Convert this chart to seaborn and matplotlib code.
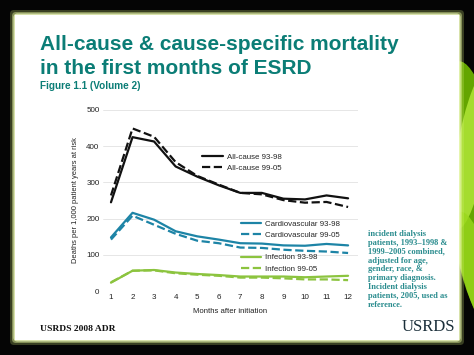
import numpy as np
import pandas as pd
import matplotlib
matplotlib.use("Agg")
import matplotlib.pyplot as plt
from matplotlib.patches import FancyBboxPatch, Ellipse
import seaborn as sns

# data
months = [1, 2, 3, 4, 5, 6, 7, 8, 9, 10, 11, 12]
allcause_9398 = [245, 425, 413, 344, 316, 292, 271, 271, 255, 253, 264, 256]
allcause_9905 = [264, 449, 426, 356, 318, 294, 271, 267, 251, 244, 246, 232]
cardio_9398 = [148, 216, 197, 165, 151, 142, 132, 131, 126, 125, 130, 126]
cardio_9905 = [142, 208, 183, 158, 139, 132, 120, 119, 114, 111, 109, 105]
infect_9398 = [23, 56, 58, 51, 47, 44, 40, 40, 40, 38, 40, 42]
infect_9905 = [24, 56, 57, 49, 45, 42, 37, 37, 35, 32, 32, 30]

teal = "#0b7d76"
black = "#111111"
blue = "#1d84a6"
green = "#8cc43f"

sns.set_theme(style="white")
plt.rcParams['font.family'] = ['Liberation Sans', 'DejaVu Sans']

fig = plt.figure(figsize=(4.74, 3.55), dpi=100)
fig.patch.set_facecolor("#050505")

# background leaf on the right
bg = fig.add_axes([0, 0, 1, 1])
bg.set_xlim(0, 474)
bg.set_ylim(355, 0)
bg.axis("off")
for cx, cy, w, h, ang, c, a in [(478, 200, 60, 280, -8, "#6fb800", 0.9),
                                (472, 150, 30, 160, 10, "#b6ea3a", 0.8),
                                (476, 270, 30, 120, -15, "#9ad81c", 0.8)]:
    bg.add_patch(Ellipse((cx, cy), w, h, angle=ang, color=c, alpha=a, lw=0))
# glow border + white slide panel
for pad, c, a in [(5, "#d8f07a", 0.25), (3, "#e4f59a", 0.45), (1.5, "#eef8c0", 0.8)]:
    bg.add_patch(FancyBboxPatch((15 - pad, 15 - pad), 444 + 2 * pad, 325 + 2 * pad,
                                boxstyle="round,pad=0,rounding_size=4",
                                fc=c, ec="none", alpha=a))
bg.add_patch(FancyBboxPatch((15, 15), 444, 325, boxstyle="square,pad=0",
                            fc="white", ec="none"))

fig.text(40 / 474, 1 - 35 / 355,
         "All-cause & cause-specific mortality\nin the first months of ESRD",
         color=teal, fontsize=15, fontweight="bold", va="top", ha="left",
         linespacing=1.3)
fig.text(40 / 474, 1 - 86 / 355, "Figure 1.1 (Volume 2)", color=teal,
         fontsize=7.2, fontweight="bold", va="center", ha="left")

ax = fig.add_axes([103 / 474, 1 - 291 / 355, 255 / 474, 181 / 355])
ax.set_facecolor("none")

series = [
    ("All-cause 93-98", allcause_9398, black, "-"),
    ("All-cause 99-05", allcause_9905, black, "--"),
    ("Cardiovascular 93-98", cardio_9398, blue, "-"),
    ("Cardiovascular 99-05", cardio_9905, blue, "--"),
    ("Infection 93-98", infect_9398, green, "-"),
    ("Infection 99-05", infect_9905, green, "--"),
]
handles = []
for name, vals, col, ls in series:
    df = pd.DataFrame({"month": months, "rate": vals})
    sns.lineplot(data=df, x="month", y="rate", ax=ax, color=col, lw=1.6,
                 linestyle=ls, label=name, legend=False)
    handles.append(ax.lines[-1])

ax.set_xlim(0.63, 12.46)
ax.set_ylim(0, 500)
ax.set_xticks(months)
ax.set_yticks([0, 100, 200, 300, 400, 500])
ax.yaxis.grid(True, color="#e2e2e2", lw=0.6)
ax.set_axisbelow(True)
for s in ax.spines.values():
    s.set_visible(False)
ax.tick_params(axis="both", labelsize=5.8, length=0, pad=2.5, colors="#222222")
ax.set_xlabel("Months after initiation", fontsize=5.6, labelpad=5, color="#222222")
ax.set_ylabel("Deaths per 1,000 patient years at risk", fontsize=5.4,
              labelpad=5, color="#222222")

leg_kw = dict(frameon=False, fontsize=5.7, handlelength=2.6, handletextpad=0.5,
              labelspacing=0.45, borderpad=0, borderaxespad=0)
l1 = ax.legend(handles=handles[0:2], loc="upper left",
               bbox_to_anchor=(0.39, 0.76), **leg_kw)
ax.add_artist(l1)
l2 = ax.legend(handles=handles[2:4], loc="upper left",
               bbox_to_anchor=(0.54, 0.39), **leg_kw)
ax.add_artist(l2)
ax.legend(handles=handles[4:6], loc="upper left",
          bbox_to_anchor=(0.54, 0.205), **leg_kw)

note = ("incident dialysis\npatients, 1993\u20131998 &\n1999\u20132005 combined,\n"
        "adjusted for age,\ngender, race, &\nprimary diagnosis.\n"
        "Incident dialysis\npatients, 2005, used as\nreference.")
fig.text(368 / 474, 1 - 230 / 355, note, family=["Liberation Serif", "DejaVu Serif"],
         fontsize=6.0, fontweight="bold", color="#2a8c8e", va="top", ha="left",
         linespacing=1.14)
fig.text(40 / 474, 1 - 329 / 355, "USRDS 2008 ADR", family=["Liberation Serif", "DejaVu Serif"],
         fontsize=6.8, fontweight="bold", color="#111111", va="center", ha="left")
fig.text(455 / 474, 1 - 327 / 355, "USRDS", family=["Liberation Serif", "DejaVu Serif"],
         fontsize=12, color="#1b2f3a", va="center", ha="right")

fig.savefig("out.png", dpi=100, facecolor=fig.get_facecolor())
